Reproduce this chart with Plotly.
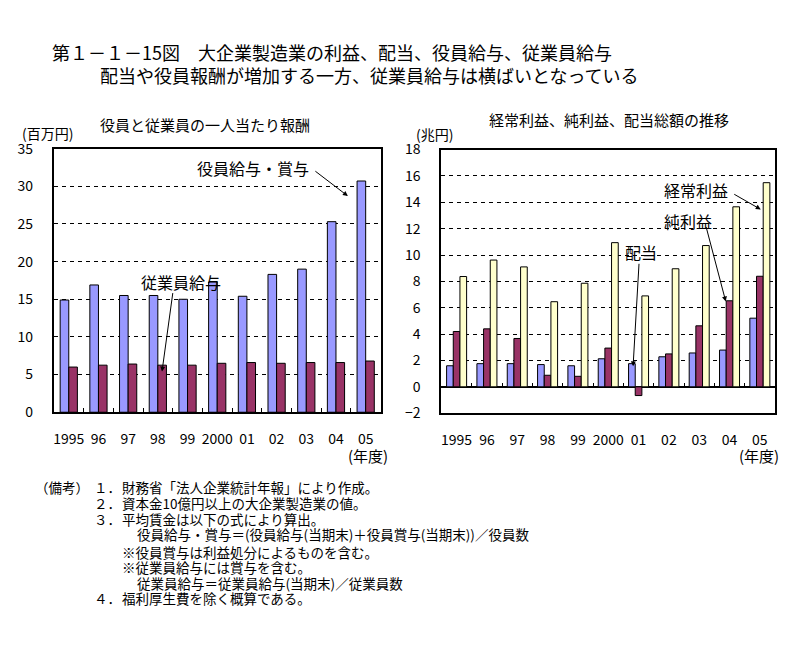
import plotly.graph_objects as go

W, H = 788, 649

# ---- data ----
years = ["1995", "96", "97", "98", "99", "2000", "01", "02", "03", "04", "05"]
exec_pay = [14.9, 16.9, 15.5, 15.5, 15.0, 17.3, 15.4, 18.3, 19.0, 25.3, 30.7]
employee_pay = [6.0, 6.25, 6.4, 6.25, 6.25, 6.5, 6.6, 6.5, 6.6, 6.6, 6.8]

dividends = [1.6, 1.76, 1.76, 1.69, 1.6, 2.13, 1.76, 2.28, 2.57, 2.79, 5.21]
net_profit = [4.2, 4.4, 3.67, 0.88, 0.8, 2.94, -0.66, 2.5, 4.63, 6.53, 8.39]
ordinary_profit = [8.37, 9.62, 9.1, 6.46, 7.86, 10.94, 6.9, 8.96, 10.72, 13.66, 15.49]

xpos = list(range(len(years)))
boundaries = [i + 0.5 for i in xpos[:-1]]

FONT = "Noto Sans CJK JP"
BLUE = "#9999FF"
MAROON = "#993366"
YELLOW = "#FFFFCC"


def px(x):
    return x / W


def py(y):
    return 1 - y / H


fig = go.Figure()

# left chart
fig.add_trace(go.Bar(x=xpos, y=exec_pay, width=0.29, offset=-0.29, marker=dict(color=BLUE, line=dict(color="black", width=1)),
                     xaxis="x", yaxis="y", showlegend=False))
fig.add_trace(go.Bar(x=xpos, y=employee_pay, width=0.29, offset=0.0, marker=dict(color=MAROON, line=dict(color="black", width=1)),
                     xaxis="x", yaxis="y", showlegend=False))

# right chart
fig.add_trace(go.Bar(x=xpos, y=dividends, width=0.22, offset=-0.33, marker=dict(color=BLUE, line=dict(color="black", width=1)),
                     xaxis="x2", yaxis="y2", showlegend=False))
fig.add_trace(go.Bar(x=xpos, y=net_profit, width=0.22, offset=-0.11, marker=dict(color=MAROON, line=dict(color="black", width=1)),
                     xaxis="x2", yaxis="y2", showlegend=False))
fig.add_trace(go.Bar(x=xpos, y=ordinary_profit, width=0.22, offset=0.11, marker=dict(color=YELLOW, line=dict(color="black", width=1)),
                     xaxis="x2", yaxis="y2", showlegend=False))
# invisible trace to carry the tick axis on the zero line
fig.add_trace(go.Scatter(x=[xpos[0]], y=[0], mode="markers", marker=dict(opacity=0), xaxis="x3", yaxis="y2",
                         showlegend=False, hoverinfo="skip"))

tickfont = dict(family=FONT, size=14, color="black")

common_x = dict(range=[-0.5, len(years) - 0.5], tickmode="array", tickvals=xpos, ticktext=years,
                showline=True, linecolor="black", linewidth=2, mirror=True, ticks="",
                showgrid=False, zeroline=False, tickfont=tickfont, ticklabelstandoff=13, fixedrange=True)

fig.update_layout(
    width=W, height=H,
    margin=dict(l=0, r=0, t=0, b=0),
    paper_bgcolor="white", plot_bgcolor="white",
    barmode="overlay",
    font=dict(family=FONT, color="black"),
    xaxis=dict(domain=[px(53), px(380)], anchor="y",
               minor=dict(tickmode="array", tickvals=boundaries, ticks="inside", ticklen=4, tickcolor="black", showgrid=False),
               **common_x),
    yaxis=dict(domain=[py(414), py(142)], anchor="x", range=[0, 35], dtick=5,
               showline=True, linecolor="black", linewidth=2, mirror=True,
               showgrid=True, gridcolor="black", gridwidth=1, griddash="4px,4px",
               zeroline=False, tickfont=tickfont, ticklabelstandoff=16, ticks="", fixedrange=True),
    xaxis2=dict(domain=[px(441), px(775)], anchor="y2", **common_x),
    xaxis3=dict(overlaying="x2", anchor="free", position=py(388.3), range=[-0.5, len(years) - 0.5],
                tickmode="array", tickvals=boundaries, ticks="inside", ticklen=4, tickcolor="black",
                showticklabels=False, showline=False, showgrid=False, zeroline=False, fixedrange=True),
    yaxis2=dict(domain=[py(415), py(143)], anchor="x2", range=[-2, 18], dtick=2,
                showline=True, linecolor="black", linewidth=2, mirror=True,
                showgrid=True, gridcolor="black", gridwidth=1, griddash="4px,4px",
                zeroline=True, zerolinecolor="black", zerolinewidth=2,
                tickfont=tickfont, ticklabelstandoff=16, ticks="", fixedrange=True),
)

annots = []


def txt(text, x, y, size=14, xanchor="left"):
    annots.append(dict(text=text, x=px(x), y=py(y), xref="paper", yref="paper", showarrow=False,
                       xanchor=xanchor, yanchor="middle", borderpad=0,
                       font=dict(family=FONT, size=size, color="black")))


# titles
txt("第１－１－15図　大企業製造業の利益、配当、役員給与、従業員給与", 50, 42, size=18)
txt("配当や役員報酬が増加する一方、従業員給与は横ばいとなっている", 98, 66, size=18)

txt("役員と従業員の一人当たり報酬", 204, 117, size=15, xanchor="center")
txt("経常利益、純利益、配当総額の推移", 609, 112, size=15, xanchor="center")
txt("(百万円)", 20, 126, size=14)
txt("(兆円)", 415, 127, size=14)
txt("(年度)", 388, 459, size=15, xanchor="right")
txt("(年度)", 780, 459, size=15, xanchor="right")

# series labels
txt("役員給与・賞与", 195, 162, size=16)
txt("従業員給与", 139, 280, size=16)
txt("経常利益", 663, 185, size=16)
txt("純利益", 663, 217, size=16)
txt("配当", 624, 249, size=16)


# arrows (heads in data coordinates, tails as pixel offsets)
def arrow(xref, yref, x, y, ax, ay):
    annots.append(dict(x=x, y=y, xref=xref, yref=yref, ax=ax, ay=ay, text="", showarrow=True,
                       arrowhead=2, arrowsize=1, arrowwidth=1, arrowcolor="black"))


arrow("x", "y", 9.40, 28.7, -34, -26)
arrow("x", "y", 3.14, 5.4, 11, -80)
arrow("x2", "y2", 10.03, 13.46, -28, -16)
arrow("x2", "y2", 8.875, 6.48, -20, -76)
arrow("x2", "y2", 5.82, 1.56, 6, -104)

# notes
notes = [
    ("（備考）", 33, 491),
    ("１．", 92, 491), ("財務省「法人企業統計年報」により作成。", 120, 491),
    ("２．", 92, 508), ("資本金10億円以上の大企業製造業の値。", 120, 508),
    ("３．", 92, 524), ("平均賃金は以下の式により算出。", 120, 524),
    ("役員給与・賞与＝(役員給与(当期末)＋役員賞与(当期末))／役員数", 135, 540),
    ("※役員賞与は利益処分によるものを含む。", 120, 558),
    ("※従業員給与には賞与を含む。", 120, 574),
    ("従業員給与＝従業員給与(当期末)／従業員数", 135, 590),
    ("４．", 92, 606), ("福利厚生費を除く概算である。", 120, 606),
]
for t, x, y in notes:
    txt(t, x, y, size=13.5)

fig.update_layout(annotations=annots)
fig.write_html("out.html", config={"displayModeBar": False},
               post_script="document.body.style.margin='0';")
